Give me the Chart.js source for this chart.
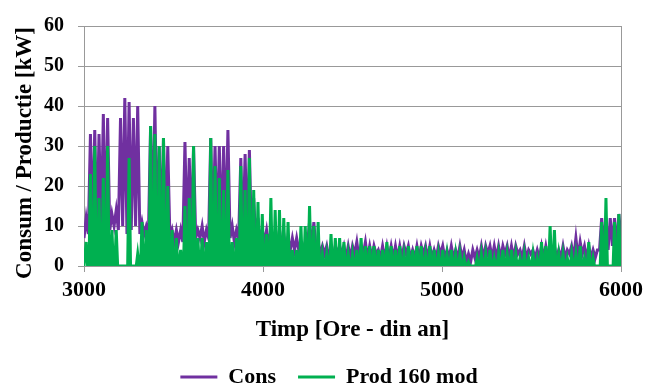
<!DOCTYPE html>
<html>
<head>
<meta charset="utf-8">
<script src="https://cdn.jsdelivr.net/npm/chart.js@4.4.0/dist/chart.umd.min.js"></script>
<style>
html, body { margin: 0; padding: 0; background: #fff; }
#wrap { width: 648px; height: 388px; }
</style>
</head>
<body>
<div id="wrap"><canvas id="myChart"></canvas></div>
<script>
// Time axis: hours of the year, one day = 24 h, first day starts at hour 3000
const startHour = 3000;
const xTicks = [3000, 4000, 5000, 6000];
const yTicks = [0, 10, 20, 30, 40, 50, 60];

// Cons: daily peak (kW), one value per day (125 days)
const consPeak = [
    12, 33, 34, 33, 38, 37, 13, 14, 37, 42,
    41, 37, 40, 11, 10, 35, 40, 30, 32, 30,
    9, 9, 9, 31, 27, 30, 9, 10, 9, 32,
    30, 30, 30, 34, 10, 9, 27, 28, 29, 17,
    12, 9, 9, 9, 8, 9, 8, 7, 7, 7,
    6, 6, 11, 11, 6, 5, 5, 5, 5, 5,
    5, 5, 5, 6, 5, 6, 5, 5, 4, 5,
    5, 5, 5, 5, 5, 5, 4, 5, 5, 5,
    5, 4, 5, 5, 4, 5, 4, 5, 4, 3,
    4, 4, 5, 5, 5, 5, 5, 5, 5, 5,
    5, 4, 5, 4, 4, 4, 5, 5, 5, 5,
    4, 5, 4, 5, 7, 6, 5, 5, 4, 4,
    12, 12, 12, 12, 13
];

// Cons: night minimum (kW), 126 values, the last one at hour 6000
const consLow = [
    7, 8, 9, 8, 9, 8, 9, 10, 9, 10,
    8, 9, 10, 8, 8, 8, 9, 8, 8, 7,
    7, 6, 6, 6, 6, 7, 7, 7, 6, 7,
    7, 7, 6, 7, 7, 6, 7, 6, 6, 6,
    6, 6, 6, 5, 6, 5, 5, 4, 4, 4,
    4, 4, 5, 4, 4, 3, 3, 2, 2, 3,
    3, 2, 2, 3, 2, 3, 2, 2, 3, 2,
    2, 2, 2, 2, 2, 3, 2, 2, 2, 3,
    2, 2, 2, 3, 2, 2, 2, 2, 2, 1,
    1, 2, 2, 2, 3, 2, 2, 2, 3, 2,
    2, 3, 2, 2, 3, 2, 2, 2, 2, 3,
    2, 2, 2, 3, 2, 2, 3, 2, 2, 2,
    4, 5, 4, 5, 4, 7
];

// Prod 160 mod: daily peak (kW), 125 days
const prodPeak = [
    6, 23, 30, 17, 22, 30, 9, 9, 0, 0,
    27, 0, 3, 11, 9, 35, 33, 30, 32, 20,
    9, 7, 4, 15, 17, 30, 7, 7, 6, 32,
    25, 22, 19, 24, 6, 7, 25, 19, 27, 19,
    16, 13, 8, 17, 14, 14, 12, 11, 4, 4,
    10, 10, 15, 10, 11, 3, 3, 8, 7, 7,
    6, 3, 3, 4, 7, 5, 5, 5, 4, 4,
    6, 5, 4, 5, 3, 5, 4, 5, 5, 3,
    5, 4, 3, 4, 3, 4, 3, 3, 2, 1,
    0, 2, 3, 3, 4, 2, 3, 4, 3, 4,
    3, 2, 3, 2, 3, 2, 6, 5, 10, 9,
    3, 3, 2, 3, 3, 5, 2, 6, 2, 0,
    11, 17, 0, 11, 13
];
// no production at night
const prodNight = 0;

function consPoints() {
    const pts = [];
    for (let d = 0; d < consPeak.length; d++) {
        pts.push({x: startHour + d * 24, y: consLow[d]});
        pts.push({x: startHour + d * 24 + 12, y: consPeak[d]});
    }
    pts.push({x: startHour + consPeak.length * 24, y: consLow[consPeak.length]});
    return pts;
}

function prodPoints() {
    const pts = [{x: startHour, y: prodNight}];
    for (let d = 0; d < prodPeak.length; d++) {
        pts.push({x: startHour + d * 24 + 4, y: prodNight});   // sunrise
        pts.push({x: startHour + d * 24 + 12, y: prodPeak[d]});
        pts.push({x: startHour + d * 24 + 20, y: prodNight});  // sunset
    }
    pts.push({x: startHour + prodPeak.length * 24, y: prodNight});
    return pts;
}

const fontFam = "'Liberation Serif', 'Times New Roman', serif";
const gridGray = '#999999';

// right border of the plot + vertical axis title
const frame = {
    id: 'frame',
    afterLayout(chart) {
        // legend sits a bit right of the centre in the original
        chart.legend.left += 17;
        chart.legend.right += 17;
    },
    afterDraw(chart) {
        const a = chart.chartArea;
        const c = chart.ctx;
        c.save();
        c.strokeStyle = gridGray;
        c.lineWidth = 1;
        c.beginPath();
        c.moveTo(Math.round(a.right) + 0.5, a.top);
        c.lineTo(Math.round(a.right) + 0.5, a.bottom + 6);
        c.stroke();
        c.translate(25, 153);
        c.rotate(-Math.PI / 2);
        c.fillStyle = '#000';
        c.font = "bold 23px " + fontFam;
        c.textAlign = 'center';
        c.textBaseline = 'middle';
        c.fillText('Consum / Productie [kW]', 0, 0);
        c.restore();
    }
};

const ctx = document.getElementById('myChart').getContext('2d');
const myChart = new Chart(ctx, {
    type: 'line',
    data: {
        datasets: [{
            label: 'Cons',
            data: consPoints(),
            borderColor: '#7030A0',
            backgroundColor: '#7030A0',
            borderWidth: 3,
            pointRadius: 0,
            tension: 0,
            order: 2
        }, {
            label: 'Prod 160 mod',
            data: prodPoints(),
            borderColor: '#00B050',
            backgroundColor: '#00B050',
            borderWidth: 3,
            pointRadius: 0,
            tension: 0,
            order: 1
        }]
    },
    options: {
        responsive: true,
        maintainAspectRatio: false,
        animation: false,
        layout: { padding: { top: 22, right: 24, bottom: -10, left: 0 } },
        plugins: {
            tooltip: { enabled: false },
            legend: {
                position: 'bottom',
                labels: {
                    font: { family: fontFam, size: 22, weight: 'bold' },
                    color: '#000',
                    usePointStyle: true,
                    pointStyle: 'line',
                    pointStyleWidth: 37,
                    padding: 22,
                    sort: (a, b) => a.datasetIndex - b.datasetIndex,
                    generateLabels(chart) {
                        const items = Chart.defaults.plugins.legend.labels.generateLabels(chart);
                        items.forEach(it => { it.lineWidth = 3; it.pointStyle = 'line'; });
                        return items;
                    }
                }
            }
        },
        scales: {
            x: {
                type: 'linear',
                min: 3000,
                max: 6000,
                afterBuildTicks(scale) { scale.ticks = xTicks.map(v => ({value: v})); },
                afterFit(scale) { scale.height = 78; },
                grid: { drawOnChartArea: false, drawTicks: true, tickLength: 6, color: gridGray },
                border: { color: gridGray },
                ticks: {
                    font: { family: fontFam, size: 22, weight: 'bold' },
                    color: '#000',
                    padding: 5,
                    maxRotation: 0,
                    callback: v => String(v)
                },
                title: {
                    display: true,
                    text: 'Timp [Ore - din an]',
                    font: { family: fontFam, size: 23, weight: 'bold' },
                    color: '#000',
                    padding: { top: -5, bottom: 0 }
                }
            },
            y: {
                min: 0,
                max: 60,
                afterBuildTicks(scale) { scale.ticks = yTicks.map(v => ({value: v})); },
                afterFit(scale) { scale.width = 84; },
                grid: { color: gridGray, tickLength: 6 },
                border: { color: gridGray },
                ticks: {
                    font: { family: fontFam, size: 20, weight: 'bold' },
                    color: '#000',
                    padding: 14,
                    callback: v => String(v)
                },
                title: { display: false }
            }
        }
    },
    plugins: [frame]
});
</script>
</body>
</html>
